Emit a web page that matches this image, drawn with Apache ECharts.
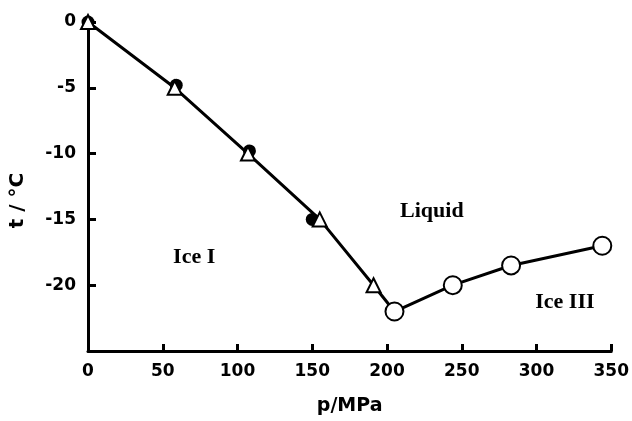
<!DOCTYPE html>
<html>
<head>
<meta charset="utf-8">
<script src="https://cdn.jsdelivr.net/npm/echarts@6/dist/echarts.min.js"></script>
<style>
  html, body { margin: 0; padding: 0; background: #fff; }
  #chart { width: 632px; height: 421px; }
</style>
</head>
<body>
<div id="chart"></div>
<script>
// p (MPa), t (°C)
const filledCircles = [[0, 0], [59, -4.8], [108, -9.8], [150, -15]];
const triangles = [[0, 0], [58, -5], [107, -10], [155, -15], [191, -20]];
const openCircles = [[205, -22], [244, -20], [283, -18.5], [344, -17]];
const xTicks = [0, 50, 100, 150, 200, 250, 300, 350];
const yTicks = [0, -5, -10, -15, -20];
const regionLabels = [
  { name: "Ice I", coord: [71, -17.9] },
  { name: "Liquid", coord: [230, -14.4] },
  { name: "Ice III", coord: [319, -21.3] }
];

const lineData = triangles.concat(openCircles);

const myChart = echarts.init(document.getElementById("chart"));
const tickFont = {
  color: "#000",
  fontFamily: "DejaVu Sans",
  fontWeight: "bold",
  fontSize: 17
};

myChart.setOption({
  animation: false,
  grid: { left: 88, right: 16, top: 22, bottom: 66 },
  xAxis: {
    type: "value",
    min: 0,
    max: 350,
    interval: 50,
    name: "p/MPa",
    nameLocation: "middle",
    nameGap: 46,
    nameTextStyle: { ...tickFont, fontSize: 19 },
    splitLine: { show: false },
    axisLine: { onZero: false, lineStyle: { color: "#000", width: 3 } },
    axisTick: { inside: true, length: 7, lineStyle: { color: "#000", width: 3 } },
    axisLabel: {
      ...tickFont,
      margin: 12,
      formatter: v => (xTicks.includes(v) ? String(v) : "")
    }
  },
  yAxis: {
    type: "value",
    min: -25,
    max: 0,
    interval: 5,
    name: "t / °C",
    nameLocation: "middle",
    nameGap: 60,
    nameTextStyle: { ...tickFont, fontSize: 20, padding: [0, 28, 0, 0] },
    splitLine: { show: false },
    axisLine: { onZero: false, lineStyle: { color: "#000", width: 3 } },
    axisTick: { inside: true, length: 8, lineStyle: { color: "#000", width: 3 } },
    axisLabel: {
      ...tickFont,
      margin: 12,
      formatter: v => (yTicks.includes(v) ? String(v) : "")
    }
  },
  series: [
    {
      type: "line",
      data: lineData,
      symbol: "none",
      z: 1,
      lineStyle: { color: "#000", width: 3 }
    },
    {
      type: "scatter",
      data: filledCircles,
      symbol: "circle",
      symbolSize: 13,
      z: 2,
      itemStyle: { color: "#000", opacity: 1 }
    },
    {
      type: "scatter",
      data: triangles,
      symbol: "triangle",
      symbolSize: [14, 14],
      z: 3,
      itemStyle: { color: "#fff", borderColor: "#000", borderWidth: 2, opacity: 1 }
    },
    {
      type: "scatter",
      data: openCircles,
      symbol: "circle",
      symbolSize: 18,
      z: 3,
      itemStyle: { color: "#fff", borderColor: "#000", borderWidth: 2, opacity: 1 }
    },
    {
      type: "scatter",
      data: regionLabels.map(d => ({ name: d.name, value: d.coord })),
      symbolSize: 0,
      silent: true,
      itemStyle: { opacity: 1 },
      label: {
        show: true,
        position: "inside",
        formatter: "{b}",
        color: "#000",
        fontFamily: "Liberation Serif",
        fontWeight: "bold",
        fontSize: 22
      }
    }
  ]
});
</script>
</body>
</html>
